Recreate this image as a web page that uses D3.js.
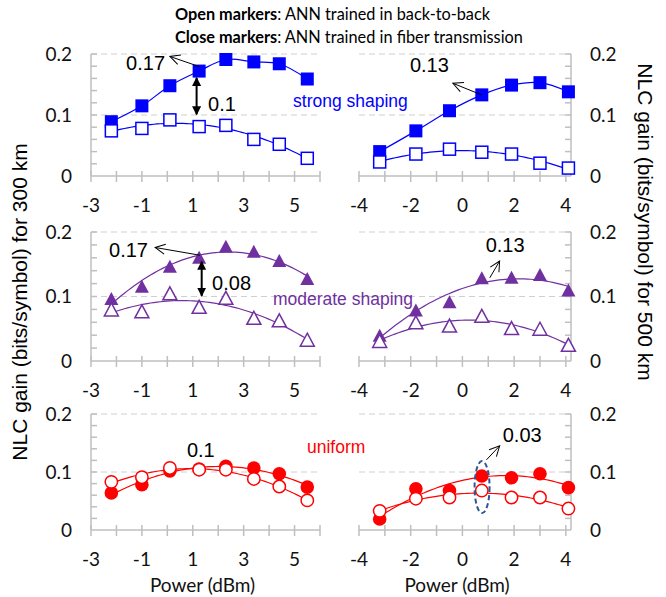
<!DOCTYPE html>
<html>
<head>
<meta charset="utf-8">
<script src="https://cdn.jsdelivr.net/npm/d3@7"></script>
<style>
  html, body { margin: 0; padding: 0; background: #fff; }
  #chart { width: 666px; height: 597px; }
</style>
</head>
<body>
<div id="chart"></div>
<script>
// Launch powers (dBm)
const xLeft = [-2.2, -1, 0.1, 1.25, 2.3, 3.4, 4.4, 5.5];   // 300 km
const xRight = [-3.2, -1.8, -0.5, 0.75, 1.9, 3.0, 4.1];     // 500 km

// NLC gain (bits/symbol)
const strong300Closed = [0.089, 0.115, 0.148, 0.172, 0.191, 0.187, 0.184, 0.159];
const strong300Open = [0.074, 0.078, 0.092, 0.081, 0.083, 0.060, 0.052, 0.029];
const strong500Closed = [0.040, 0.074, 0.107, 0.133, 0.149, 0.153, 0.138];
const strong500Open = [0.023, 0.036, 0.044, 0.039, 0.036, 0.021, 0.013];
const moderate300Closed = [0.096, 0.115, 0.146, 0.160, 0.177, 0.169, 0.155, 0.127];
const moderate300Open = [0.079, 0.076, 0.104, 0.083, 0.097, 0.066, 0.062, 0.032];
const moderate500Closed = [0.039, 0.078, 0.091, 0.128, 0.129, 0.133, 0.109];
const moderate500Open = [0.030, 0.059, 0.054, 0.069, 0.050, 0.049, 0.024];
const uniform300Closed = [0.064, 0.078, 0.102, 0.105, 0.110, 0.107, 0.097, 0.074];
const uniform300Open = [0.083, 0.091, 0.107, 0.104, 0.104, 0.088, 0.075, 0.051];
const uniform500Closed = [0.019, 0.071, 0.068, 0.093, 0.090, 0.097, 0.073];
const uniform500Open = [0.033, 0.054, 0.056, 0.068, 0.056, 0.056, 0.037];

const leftTicks = [-3, -1, 1, 3, 5];
const rightTicks = [-4, -2, 0, 2, 4];
const yTickLabels = [0, 0.1, 0.2];

const COLORS = { strong: '#0000ff', moderate: '#7030a0', uniform: '#ff0000' };
const NUM_FONT = '"Liberation Sans", Arial, sans-serif';
const TICK_FONT = 'Lato, "Open Sans", sans-serif';
const AXIS_GREY = '#bfbfbf';

const svg = d3.select('#chart').append('svg')
    .attr('width', 666)
    .attr('height', 597);

const defs = svg.append('defs');
// open (line) arrow head
defs.append('marker')
    .attr('id', 'open-head')
    .attr('viewBox', '0 0 12 12')
    .attr('refX', 11).attr('refY', 6)
    .attr('markerWidth', 12).attr('markerHeight', 12)
    .attr('markerUnits', 'userSpaceOnUse')
    .attr('orient', 'auto')
    .append('path')
    .attr('d', 'M1,1 L11,6 L1,11')
    .attr('fill', 'none')
    .attr('stroke', '#000')
    .attr('stroke-width', 1);
// filled arrow head
defs.append('marker')
    .attr('id', 'fill-head')
    .attr('viewBox', '0 0 10 10')
    .attr('refX', 9).attr('refY', 5)
    .attr('markerWidth', 9).attr('markerHeight', 9)
    .attr('markerUnits', 'userSpaceOnUse')
    .attr('orient', 'auto-start-reverse')
    .append('path')
    .attr('d', 'M0,0 L10,5 L0,10 Z')
    .attr('fill', '#000');

// least-squares polynomial trendline
function polyfit(xs, ys, deg) {
    const n = deg + 1;
    const A = Array.from({ length: n }, () => new Array(n + 1).fill(0));
    xs.forEach((x, k) => {
        for (let i = 0; i < n; i++) {
            for (let j = 0; j < n; j++) A[i][j] += Math.pow(x, i + j);
            A[i][n] += ys[k] * Math.pow(x, i);
        }
    });
    for (let c = 0; c < n; c++) {
        let p = c;
        for (let r = c + 1; r < n; r++) if (Math.abs(A[r][c]) > Math.abs(A[p][c])) p = r;
        [A[c], A[p]] = [A[p], A[c]];
        for (let r = 0; r < n; r++) {
            if (r === c) continue;
            const f = A[r][c] / A[c][c];
            for (let k = c; k <= n; k++) A[r][k] -= f * A[c][k];
        }
    }
    const coef = A.map((row, i) => row[n] / row[i]);
    return x => coef.reduce((s, c, i) => s + c * Math.pow(x, i), 0);
}

// panel layout
const rows = [
    { y0: 176, y2: 54 },
    { y0: 361, y2: 232 },
    { y0: 530, y2: 414 }
];
const sides = {
    left: { domain: [-3, 6], range: [91, 320], ticks: leftTicks, xs: xLeft },
    right: { domain: [-4, 4.2], range: [359, 571], ticks: rightTicks, xs: xRight }
};

const panels = [
    { row: 0, side: 'left', color: COLORS.strong, marker: 'square', closed: strong300Closed, open: strong300Open, closedFit: 'smooth', openFit: 2 },
    { row: 0, side: 'right', color: COLORS.strong, marker: 'square', closed: strong500Closed, open: strong500Open, closedFit: 'smooth', openFit: 2 },
    { row: 1, side: 'left', color: COLORS.moderate, marker: 'triangle', closed: moderate300Closed, open: moderate300Open, closedFit: 2, openFit: 2 },
    { row: 1, side: 'right', color: COLORS.moderate, marker: 'triangle', closed: moderate500Closed, open: moderate500Open, closedFit: 2, openFit: 2 },
    { row: 2, side: 'left', color: COLORS.uniform, marker: 'circle', closed: uniform300Closed, open: uniform300Open, closedFit: 2, openFit: 2 },
    { row: 2, side: 'right', color: COLORS.uniform, marker: 'circle', closed: uniform500Closed, open: uniform500Open, closedFit: 2, openFit: 2 }
];

function drawMarker(g, kind, cx, cy, color, filled) {
    if (kind === 'square') {
        const s = filled ? 13 : 12;
        g.append('rect')
            .attr('x', cx - s / 2).attr('y', cy - s / 2)
            .attr('width', s).attr('height', s)
            .attr('fill', filled ? color : '#fff')
            .attr('stroke', color)
            .attr('stroke-width', filled ? 0 : 1.5);
    } else if (kind === 'triangle') {
        const w = 14, h = 13;
        g.append('path')
            .attr('d', `M${cx},${cy - h * 0.55} L${cx + w / 2},${cy + h * 0.45} L${cx - w / 2},${cy + h * 0.45} Z`)
            .attr('fill', filled ? color : '#fff')
            .attr('stroke', color)
            .attr('stroke-width', filled ? 0 : 1.5);
    } else {
        g.append('circle')
            .attr('cx', cx).attr('cy', cy)
            .attr('r', filled ? 6.8 : 6.2)
            .attr('fill', filled ? color : '#fff')
            .attr('stroke', color)
            .attr('stroke-width', filled ? 0 : 1.5);
    }
}

const scales = [];

panels.forEach((p, idx) => {
    const side = sides[p.side];
    const row = rows[p.row];
    const x = d3.scaleLinear().domain(side.domain).range(side.range);
    const y = d3.scaleLinear().domain([0, 0.2]).range([row.y0, row.y2]);
    scales.push({ x, y });
    const g = svg.append('g').attr('class', `panel panel-${idx}`);

    // dashed gridlines
    g.selectAll('.grid')
        .data([0.1, 0.2])
        .enter()
        .append('line')
        .attr('x1', side.range[0]).attr('x2', side.range[1])
        .attr('y1', d => y(d)).attr('y2', d => y(d))
        .attr('stroke', '#d0d0d0')
        .attr('stroke-width', 1.2)
        .attr('stroke-dasharray', '6,4');

    // x axis line + ticks (every unit)
    g.append('line')
        .attr('x1', side.range[0]).attr('x2', side.range[1])
        .attr('y1', row.y0).attr('y2', row.y0)
        .attr('stroke', AXIS_GREY).attr('stroke-width', 1.5);
    const unitTicks = d3.range(Math.ceil(side.domain[0]), Math.floor(side.domain[1]) + 1);
    g.selectAll('.xt')
        .data(unitTicks)
        .enter()
        .append('line')
        .attr('x1', d => x(d)).attr('x2', d => x(d))
        .attr('y1', row.y0 - 5).attr('y2', row.y0 + 6)
        .attr('stroke', AXIS_GREY).attr('stroke-width', 1.5);
    g.selectAll('.xl')
        .data(side.ticks)
        .enter()
        .append('text')
        .attr('x', d => x(d))
        .attr('y', row.y0 + 36)
        .attr('text-anchor', 'middle')
        .attr('font-family', TICK_FONT)
        .attr('font-size', 19)
        .attr('fill', '#111')
        .text(d => d);

    // y axis line + minor ticks
    const yAxisX = p.side === 'left' ? side.range[0] : side.range[1];
    const dir = p.side === 'left' ? 1 : -1;
    g.append('line')
        .attr('x1', yAxisX).attr('x2', yAxisX)
        .attr('y1', row.y0).attr('y2', row.y2)
        .attr('stroke', AXIS_GREY).attr('stroke-width', 1.5);
    g.selectAll('.yt')
        .data(d3.range(0.02, 0.201, 0.02))
        .enter()
        .append('line')
        .attr('x1', yAxisX).attr('x2', yAxisX + dir * 6)
        .attr('y1', d => y(d)).attr('y2', d => y(d))
        .attr('stroke', AXIS_GREY).attr('stroke-width', 1.5);
    g.selectAll('.yl')
        .data(yTickLabels)
        .enter()
        .append('text')
        .attr('x', p.side === 'left' ? 72 : 590)
        .attr('y', d => y(d))
        .attr('dy', '0.35em')
        .attr('text-anchor', p.side === 'left' ? 'end' : 'start')
        .attr('font-family', TICK_FONT)
        .attr('font-size', 19)
        .attr('fill', '#111')
        .text(d => d);

    // series lines
    [['open', p.openFit], ['closed', p.closedFit]].forEach(([key, fit]) => {
        const vals = p[key];
        let pts;
        let curve = d3.curveLinear;
        if (fit === 'smooth') {
            pts = side.xs.map((xv, i) => [xv, vals[i]]);
            curve = d3.curveCatmullRom.alpha(0.5);
        } else {
            const f = polyfit(side.xs, vals, fit);
            const [a, b] = d3.extent(side.xs);
            pts = d3.range(0, 61).map(i => {
                const xv = a + (b - a) * i / 60;
                return [xv, f(xv)];
            });
        }
        g.append('path')
            .datum(pts)
            .attr('fill', 'none')
            .attr('stroke', p.color)
            .attr('stroke-width', 1.2)
            .attr('d', d3.line().x(d => x(d[0])).y(d => y(d[1])).curve(curve));
    });

    // markers: closed first then open on top
    side.xs.forEach((xv, i) => drawMarker(g, p.marker, x(xv), y(p.closed[i]), p.color, true));
    side.xs.forEach((xv, i) => drawMarker(g, p.marker, x(xv), y(p.open[i]), p.color, false));
});

// annotations (in data units of each panel)
function ann(panelIdx) { return scales[panelIdx]; }

function label(pi, xv, yv, text, opts = {}) {
    const s = ann(pi);
    svg.append('text')
        .attr('x', s.x(xv)).attr('y', s.y(yv))
        .attr('text-anchor', opts.anchor || 'start')
        .attr('font-family', opts.font || NUM_FONT)
        .attr('font-size', opts.size || 20)
        .attr('fill', opts.color || '#000')
        .text(text);
}
function pointer(pi, x1, y1, x2, y2) {
    const s = ann(pi);
    svg.append('line')
        .attr('x1', s.x(x1)).attr('y1', s.y(y1))
        .attr('x2', s.x(x2)).attr('y2', s.y(y2))
        .attr('stroke', '#000').attr('stroke-width', 1)
        .attr('marker-end', 'url(#open-head)');
}
function doubleArrow(pi, xv, y1, y2) {
    const s = ann(pi);
    svg.append('line')
        .attr('x1', s.x(xv)).attr('y1', s.y(y1))
        .attr('x2', s.x(xv)).attr('y2', s.y(y2))
        .attr('stroke', '#000').attr('stroke-width', 2)
        .attr('marker-start', 'url(#fill-head)')
        .attr('marker-end', 'url(#fill-head)');
}

// strong shaping
label(0, -0.09, 0.174, '0.17', { anchor: 'end' });
pointer(0, 1.28, 0.179, 0.1, 0.196);
doubleArrow(0, 1.15, 0.161, 0.101);
label(0, 1.6, 0.106, '0.1');
label(0, 4.94, 0.113, 'strong shaping', { size: 17.5, color: COLORS.strong });
label(1, -2.03, 0.17, '0.13');
pointer(1, 0.74, 0.133, -0.37, 0.152);

// moderate shaping
label(2, -0.76, 0.162, '0.17', { anchor: 'end' });
pointer(2, 1.28, 0.164, -0.48, 0.176);
doubleArrow(2, 1.35, 0.154, 0.101);
label(2, 1.76, 0.11, '0.08');
label(2, 4.15, 0.087, 'moderate shaping', { size: 17.5, color: COLORS.moderate });
label(3, 0.9, 0.169, '0.13');
pointer(3, 1.06, 0.129, 1.44, 0.155);

// uniform
label(4, 0.77, 0.126, '0.1');
label(4, 5.49, 0.133, 'uniform', { size: 17.5, color: COLORS.uniform });
label(5, 1.56, 0.152, '0.03');
pointer(5, 0.93, 0.121, 1.44, 0.145);
svg.append('ellipse')
    .attr('cx', scales[5].x(0.76)).attr('cy', scales[5].y(0.074))
    .attr('rx', 7.5).attr('ry', 26)
    .attr('fill', 'none')
    .attr('stroke', '#2f5597')
    .attr('stroke-width', 2)
    .attr('stroke-dasharray', '5,3');

// x axis titles
[0, 1].forEach(i => {
    const s = scales[4 + i];
    const r = s.x.range();
    svg.append('text')
        .attr('x', (r[0] + r[1]) / 2 + (i === 0 ? -3 : -8))
        .attr('y', 592)
        .attr('text-anchor', 'middle')
        .attr('font-family', TICK_FONT)
        .attr('font-size', 19)
        .attr('fill', '#111')
        .text('Power (dBm)');
});

// y axis titles
svg.append('text')
    .attr('transform', 'translate(27,302) rotate(-90)')
    .attr('text-anchor', 'middle')
    .attr('font-family', NUM_FONT)
    .attr('font-size', 21)
    .attr('fill', '#000')
    .text('NLC gain (bits/symbol) for 300 km');
svg.append('text')
    .attr('transform', 'translate(638,222) rotate(90)')
    .attr('text-anchor', 'middle')
    .attr('font-family', NUM_FONT)
    .attr('font-size', 21)
    .attr('fill', '#000')
    .text('NLC gain (bits/symbol) for 500 km');

// header
const header = [
    ['Open markers', ': ANN trained in back-to-back'],
    ['Close markers', ': ANN trained in fiber transmission']
];
header.forEach((h, i) => {
    const t = svg.append('text')
        .attr('x', 175)
        .attr('y', 20 + i * 23)
        .attr('font-family', TICK_FONT)
        .attr('font-size', 16.3)
        .attr('fill', '#000');
    t.append('tspan').attr('font-weight', 'bold').text(h[0]);
    t.append('tspan').text(h[1]);
});
</script>
</body>
</html>
